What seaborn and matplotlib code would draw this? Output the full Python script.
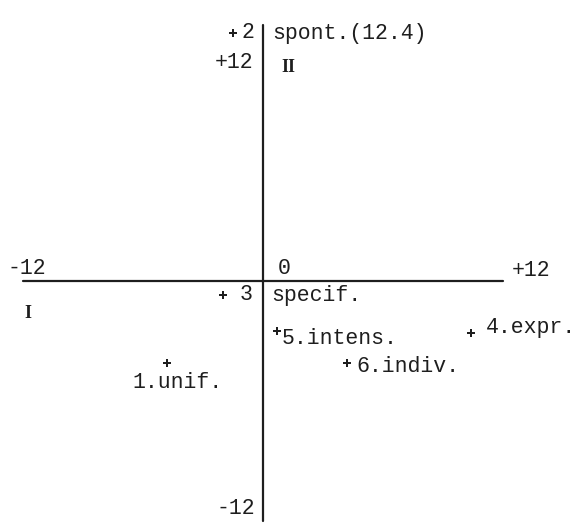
import matplotlib
matplotlib.use("Agg")
import matplotlib.pyplot as plt
import seaborn as sns
import pandas as pd

# factor scores of the six items
nums = ["1", "2", "3", "4", "5", "6"]
names = ["unif.", "spont.", "specif.", "expr.", "intens.", "indiv."]
xs = [-4.8, -1.5, -2.0, 10.4, 0.7, 4.2]
ys = [-4.1, 12.4, -0.7, -2.6, -2.5, -4.1]

# axis extent and end labels
axis_min, axis_max = -12, 12
x_tick_vals = [-12, 0, 12]
x_tick_text = ["-12", "0", "+12"]
y_tick_vals = [12, -12]
y_tick_text = ["+12", "-12"]

# quadrant numerals
quad_text = ["I", "II"]
quad_x = [-11.75, 1.25]
quad_y = [-1.6, 10.65]

sns.set_theme(style="white")
plt.rcParams["font.family"] = ["Liberation Mono", "DejaVu Sans"]

ink = "#1e1e1e"
fig = plt.figure(figsize=(5.79, 5.26), dpi=100)
ax = fig.add_axes([0, 0, 1, 1])
ax.set_xlim(-13.15, 15.8)
ax.set_ylim(-12.25, 14.05)
ax.axis("off")

# crossing axes
ax.plot([axis_min, axis_max], [0, 0], color=ink, lw=1.6, solid_capstyle="round")
ax.plot([0, 0], [axis_min, max(ys) + 0.4], color=ink, lw=1.6, solid_capstyle="round")

df = pd.DataFrame({"x": xs, "y": ys, "num": nums, "name": names})
sns.scatterplot(data=df, x="x", y="y", marker="P", s=38, color=ink,
                edgecolor="none", ax=ax, legend=False, zorder=3)

fs = 15.5
tkw = dict(textcoords="offset pixels", color=ink, fontsize=fs, va="center")

# item labels placed around each point
for n, nm, x, y in zip(nums, names, xs, ys):
    if n == "1":
        ax.annotate(f"{n}.{nm}", (x, y), xytext=(11, -20), ha="center", **tkw)
    elif n == "2":
        ax.annotate(n, (x, y), xytext=(9, 0), ha="left", **tkw)
        ax.annotate(f"{nm}({y:.1f})", (x, y), xytext=(39, 0), ha="left", **tkw)
    elif n == "3":
        ax.annotate(n, (x, y), xytext=(17, 0), ha="left", **tkw)
        ax.annotate(nm, (x, y), xytext=(48, 0), ha="left", **tkw)
    elif n == "4":
        ax.annotate(f"{n}.{nm}", (x, y), xytext=(15, 5), ha="left", **tkw)
    elif n == "5":
        ax.annotate(f"{n}.{nm}", (x, y), xytext=(5, -8), ha="left", **tkw)
    else:
        ax.annotate(f"{n}.{nm}", (x, y), xytext=(9, -4), ha="left", **tkw)

# end labels of the horizontal axis
x_offsets = [(4, 13), (21, 13), (9, 11)]
x_align = ["center", "center", "left"]
for v, t, off, ha in zip(x_tick_vals, x_tick_text, x_offsets, x_align):
    ax.annotate(t, (v, 0), xytext=off, ha=ha, **tkw)

# end labels of the vertical axis
y_offsets = [(-10, -21), (-8, 13)]
for v, t, off in zip(y_tick_vals, y_tick_text, y_offsets):
    ax.annotate(t, (0, v), xytext=off, ha="right", **tkw)

for t, x, y in zip(quad_text, quad_x, quad_y):
    ax.text(x, y, t, ha="center", va="center", color=ink, fontsize=13,
            fontweight="bold", family=["Liberation Serif", "DejaVu Serif"])

fig.savefig("out.png", dpi=100, facecolor="white")
